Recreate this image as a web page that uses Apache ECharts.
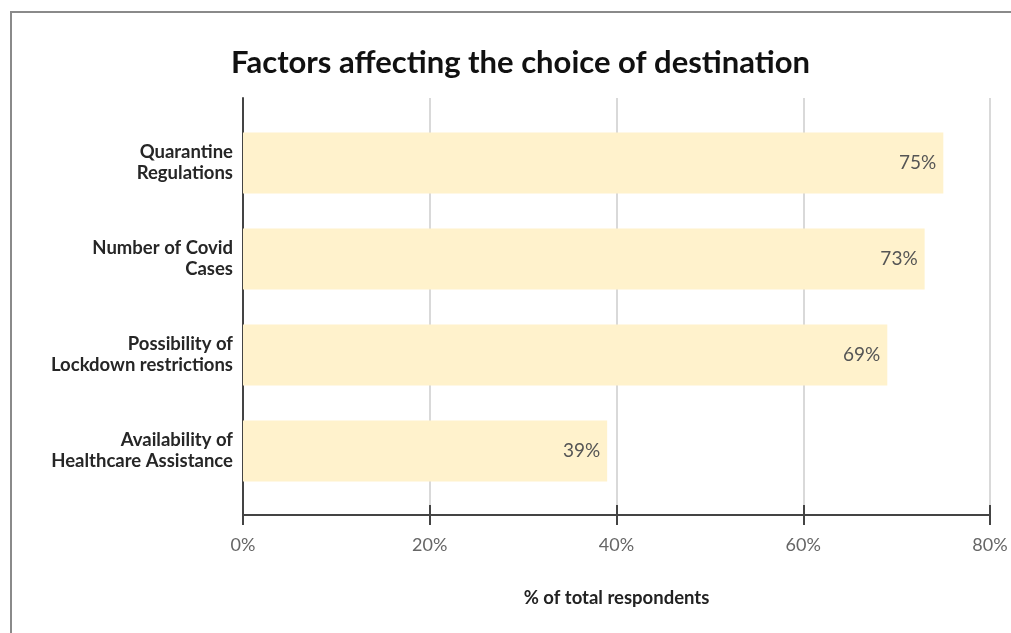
<!DOCTYPE html>
<html><head><meta charset="utf-8">
<script src="https://cdn.jsdelivr.net/npm/echarts@6/dist/echarts.min.js"></script>
<style>html,body{margin:0;padding:0;background:#fff}#c{width:1011px;height:633px}</style>
</head><body><div id="c"></div>
<script>
const categories = ['Availability of\nHealthcare Assistance', 'Possibility of\nLockdown restrictions', 'Number of Covid\nCases', 'Quarantine\nRegulations'];
const values = [39, 69, 73, 75];
const xTicks = [0, 20, 40, 60, 80];
const FONT = 'Lato, "Open Sans", sans-serif';
const chart = echarts.init(document.getElementById('c'));
chart.setOption({
  backgroundColor: '#fff',
  animation: false,
  title: {
    text: 'Factors affecting the choice of destination',
    left: 226, top: 42,
    textStyle: { fontFamily: FONT, fontSize: 31, fontWeight: 'bold', color: '#111' }
  },
  graphic: [{
    type: 'rect', shape: { x: 11, y: 12, width: 1100, height: 700 },
    style: { fill: 'none', stroke: '#8a8a8a', lineWidth: 2 }, z: -1
  }],
  grid: [
    { left: 243, right: 21, top: 98, bottom: 118 },
    { left: 243, right: 21, top: 115, bottom: 134 }
  ],
  xAxis: [
    {
      gridIndex: 0, type: 'value', position: 'bottom', min: xTicks[0], max: xTicks[xTicks.length - 1], interval: 20,
      axisLine: { show: true, lineStyle: { color: '#444', width: 2 } },
      axisTick: { show: true, length: 10, lineStyle: { color: '#444', width: 2 } },
      axisLabel: { formatter: '{value}%', color: '#666', fontFamily: FONT, fontSize: 18, margin: 21 },
      splitLine: { show: true, lineStyle: { color: '#d9d9d9', width: 2 } },
      name: '% of total respondents', nameLocation: 'middle', nameGap: 74,
      nameTextStyle: { fontFamily: FONT, fontSize: 18.5, fontWeight: 'bold', color: '#222' }
    },
    {
      gridIndex: 0, type: 'value', position: 'bottom', offset: 0, min: xTicks[0], max: xTicks[xTicks.length - 1], interval: 20,
      axisLine: { show: false },
      axisTick: { show: true, inside: true, length: 10, lineStyle: { color: '#444', width: 2 } },
      axisLabel: { show: false }, splitLine: { show: false }
    },
    {
      gridIndex: 1, type: 'value', min: xTicks[0], max: xTicks[xTicks.length - 1], show: false
    }
  ],
  yAxis: [
    {
      gridIndex: 0, type: 'value', min: 0, max: 1,
      axisLine: { show: true, lineStyle: { color: '#444', width: 2 } },
      axisTick: { show: false }, axisLabel: { show: false }, splitLine: { show: false }
    },
    {
      gridIndex: 1, type: 'category', data: categories,
      axisLine: { show: false }, axisTick: { show: false },
      axisLabel: { color: '#262626', fontFamily: FONT, fontSize: 18.5, fontWeight: 'bold', lineHeight: 21, margin: 10, align: 'right', padding: [3, 0, 0, 0] }
    }
  ],
  series: [{
    type: 'bar', xAxisIndex: 2, yAxisIndex: 1, data: values, barWidth: 61,
    itemStyle: { color: '#fff2cc' },
    label: { show: true, position: 'insideRight', distance: 7, formatter: '{c}%', color: '#555', fontFamily: FONT, fontSize: 19 }
  }]
});
</script></body></html>
